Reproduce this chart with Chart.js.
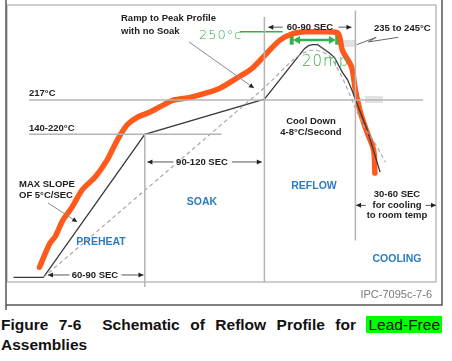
<!DOCTYPE html>
<html>
<head>
<meta charset="utf-8">
<script src="https://cdn.jsdelivr.net/npm/chart.js@4.4.1/dist/chart.umd.min.js"></script>
<style>
  body { margin: 0; background: #fff; }
  #wrap { position: relative; width: 452px; height: 361px; overflow: hidden; }
  #graphic { position: absolute; left: 0; top: 0; }
  #caption {
    position: absolute; left: 1px; top: 315px; width: 441px;
    font: bold 15.5px "Liberation Sans", Arial, sans-serif;
    line-height: 20px; text-align: justify; color: #111;
  }
  #caption .hl { background: #00ff00; font-weight: normal; padding: 0 2px; }
</style>
</head>
<body>
<div id="wrap">
  <canvas id="graphic" width="452" height="310"></canvas>
  <div id="caption">Figure 7-6&nbsp; Schematic of Reflow Profile for <span class="hl">Lead-Free</span> Assemblies</div>
</div>
<script>
// tiempo en segundos (x) y temperatura en °C (y), esquema
var profileTime = [5, 28, 106, 198, 225, 229, 232, 235, 239, 242, 245, 248, 252, 255, 258, 262, 265, 268, 277, 287];
var profileTemp = [25, 25, 180, 218, 266, 273, 276, 277, 277, 274, 271, 268, 263, 255, 247, 239, 229, 218, 185, 139];

var noSoakTime = [28, 196, 205, 212, 218, 223, 228, 233, 238, 243, 248, 252, 256, 260, 264, 268, 272, 276, 284, 291];
var noSoakTemp = [25, 228, 240, 250, 258, 264, 268, 271, 271, 269, 265, 257, 247, 235, 222, 208, 196, 185, 168, 150];

// curva dibujada a mano (naranja)
var handTime = [25, 33, 37, 43, 50, 58, 68, 77, 82, 87, 93, 101, 110, 118, 128, 141, 154, 164, 177, 189, 200, 210, 220, 231, 241, 254, 256, 258, 265, 268, 272, 277, 282, 283];
var handTemp = [36, 62, 69, 87, 101, 120, 134, 152, 166, 179, 191, 199, 204, 210, 217, 220, 225, 230, 241, 252, 268, 282, 289, 291, 291, 290, 285, 271, 253, 228, 203, 182, 163, 138];

var liquidusTemp = 217;
var soakTopTemp = 180;
var phaseBounds = [106, 198, 268];

// anotaciones verdes
var peakMarkTemp = 291;
var tal = [219, 254];
var talTemp = 282;

var pts = function (xs, ys) {
    return xs.map(function (x, i) { return { x: x, y: ys[i] }; });
};

var gray = '#b4b4b4';
var green = '#2db34a';
var line = function (data, color, width, extra) {
    var d = {
        data: data, showLine: true, borderColor: color, borderWidth: width,
        pointRadius: 0, fill: false, clip: false, tension: 0
    };
    for (var k in extra) d[k] = extra[k];
    return d;
};

var datasets = [
    line([{ x: 17, y: liquidusTemp }, { x: 320, y: liquidusTemp }], gray, 1.5),
    line([{ x: 17, y: soakTopTemp }, { x: 165, y: soakTopTemp }], gray, 1.5),
    line([{ x: phaseBounds[0], y: soakTopTemp }, { x: phaseBounds[0], y: 14.5 }], gray, 1.5),
    line([{ x: phaseBounds[1], y: 307 }, { x: phaseBounds[1], y: 20 }], gray, 1.5),
    line([{ x: phaseBounds[2], y: 314 }, { x: phaseBounds[2], y: 65 }], gray, 1.5),
    line(pts(noSoakTime, noSoakTemp), '#a8a8a8', 1.2, { borderDash: [4, 3] }),
    line(pts(profileTime, profileTemp), '#3a3a3a', 1.3),
    line(pts(handTime, handTemp), '#ff5a1c', 5.5, { tension: 0.3, borderCapStyle: 'round', borderJoinStyle: 'round' }),
    line([{ x: 179, y: peakMarkTemp }, { x: 212, y: peakMarkTemp }], green, 1.5),
    line([{ x: tal[0], y: 277 }, { x: tal[0], y: 289 }], green, 4),
    line([{ x: tal[1], y: 277 }, { x: tal[1], y: 292 }], green, 4),
    line([{ x: tal[0] + 4, y: talTemp }, { x: tal[1] - 4, y: talTemp }], green, 2.5)
];

var FONT = '"Liberation Sans", Arial, sans-serif';

var arrowHead = function (ctx, x1, y1, x2, y2, color, len, half) {
    var a = Math.atan2(y2 - y1, x2 - x1);
    ctx.fillStyle = color;
    ctx.beginPath();
    ctx.moveTo(x2, y2);
    ctx.lineTo(x2 - len * Math.cos(a) + half * Math.sin(a), y2 - len * Math.sin(a) - half * Math.cos(a));
    ctx.lineTo(x2 - len * Math.cos(a) - half * Math.sin(a), y2 - len * Math.sin(a) + half * Math.cos(a));
    ctx.closePath(); ctx.fill();
};

var arrow = function (ctx, x1, y1, x2, y2, color, head) {
    ctx.save();
    ctx.strokeStyle = color;
    ctx.lineWidth = 1;
    ctx.beginPath(); ctx.moveTo(x1, y1); ctx.lineTo(x2, y2); ctx.stroke();
    arrowHead(ctx, x1, y1, x2, y2, head || '#222', 5, 2.5);
    ctx.restore();
};

var decor = {
    id: 'decor',
    beforeDatasetsDraw: function (chart) {
        var ctx = chart.ctx, a = chart.chartArea;
        ctx.save();
        ctx.strokeStyle = '#bdbdbd'; ctx.lineWidth = 1.5;
        ctx.strokeRect(a.left, a.top, a.right - a.left, a.bottom - a.top);
        ctx.strokeStyle = '#555'; ctx.lineWidth = 1.5;
        ctx.beginPath();
        ctx.moveTo(6, 0); ctx.lineTo(6, 310);
        ctx.moveTo(442, 0); ctx.lineTo(442, 305); ctx.lineTo(6, 305);
        ctx.stroke();
        ctx.fillStyle = '#e2e2e2';
        ctx.fillRect(343, 40, 12, 7);
        ctx.fillRect(365, 96, 18, 7);
        ctx.restore();
    },
    afterDatasetsDraw: function (chart) {
        var ctx = chart.ctx;
        var X = chart.scales.x, Y = chart.scales.y;
        var px = function (t) { return X.getPixelForValue(t); };
        var py = function (T) { return Y.getPixelForValue(T); };
        ctx.save();
        ctx.textBaseline = 'middle';

        var txt = function (s, x, y, align, size, color, weight, family) {
            ctx.font = (weight || 'bold') + ' ' + size + 'px ' + (family || FONT);
            ctx.fillStyle = color;
            ctx.textAlign = align;
            ctx.fillText(s, x, y);
        };
        var k = '#222', blue = '#2b7cc0';
        txt('Ramp to Peak Profile', 121, 18, 'left', 9.5, k);
        txt('with no Soak', 121, 31, 'left', 9.5, k);
        txt('60-90 SEC', 310, 27, 'center', 9.5, k);
        txt('235 to 245°C', 374, 28, 'left', 9.5, k);
        txt('217°C', 29, 93, 'left', 9.5, k);
        txt('140-220°C', 29, 128, 'left', 9.5, k);
        txt('Cool Down', 311, 121, 'center', 9.5, k);
        txt('4-8°C/Second', 311, 132, 'center', 9.5, k);
        txt('90-120 SEC', 202, 162, 'center', 9.5, k);
        txt('MAX SLOPE', 19, 184, 'left', 9.5, k);
        txt('OF 5°C/SEC', 19, 195, 'left', 9.5, k);
        txt('30-60 SEC', 397, 194, 'center', 9.5, k);
        txt('for cooling', 397, 205, 'center', 9.5, k);
        txt('to room temp', 397, 215, 'center', 9.5, k);
        txt('60-90 SEC', 95, 275, 'center', 9.5, k);
        txt('PREHEAT', 101, 242, 'center', 10.5, blue);
        txt('SOAK', 202, 202, 'center', 10.5, blue);
        txt('REFLOW', 314, 186, 'center', 10.5, blue);
        txt('COOLING', 397, 259, 'center', 10.5, blue);
        txt('IPC-7095c-7-6', 432, 295, 'right', 11, '#7a7a7a', 'normal');

        // anotaciones a mano
        ctx.letterSpacing = '1px';
        txt('250°c', 199, 36, 'left', 13, green, '200', '"DejaVu Sans", sans-serif');
        txt('20mp', 302, 62, 'left', 15, green, '200', '"DejaVu Sans", sans-serif');
        ctx.letterSpacing = '0px';
        arrowHead(ctx, px(tal[1]), py(talTemp), px(tal[0] + 1), py(talTemp), green, 7, 4);
        arrowHead(ctx, px(tal[0]), py(talTemp), px(tal[1] - 1), py(talTemp), green, 7, 4);

        // flechas de cotas
        var dim = '#555';
        arrow(ctx, px(212), py(296), px(201), py(296), dim);
        arrow(ctx, px(255), py(296), px(265), py(296), dim);
        arrow(ctx, px(128), py(150), px(108), py(150), dim);
        arrow(ctx, px(173), py(150), px(196), py(150), dim);
        arrow(ctx, px(48), py(27.6), px(31.5), py(27.6), dim);
        arrow(ctx, px(88), py(27.6), px(105), py(27.6), dim);
        arrow(ctx, px(276), py(103), px(268.5), py(103), dim);
        arrow(ctx, px(322), py(103), px(330), py(103), dim);
        arrow(ctx, px(140), py(280), px(190), py(230), '#8a8a8a');
        arrow(ctx, px(31.5), py(105.6), px(54), py(85), '#8a8a8a');

        // 235 to 245 leader
        ctx.strokeStyle = '#666'; ctx.lineWidth = 1;
        ctx.beginPath();
        ctx.moveTo(px(301), py(285));
        ctx.lineTo(px(278), py(280));
        ctx.lineTo(px(284), py(285));
        ctx.lineTo(px(269), py(277));
        ctx.stroke();
        ctx.restore();
    }
};

var myChart = new Chart('graphic', {
    type: 'scatter',
    data: { datasets: datasets },
    options: {
        responsive: false,
        animation: false,
        layout: { padding: { left: 7, top: 5, right: 16, bottom: 28 } },
        scales: {
            x: { type: 'linear', min: 0, max: 330, display: false },
            y: { type: 'linear', min: 20, max: 320, display: false }
        },
        plugins: { legend: { display: false }, tooltip: { enabled: false } }
    },
    plugins: [decor]
});
</script>
</body>
</html>
